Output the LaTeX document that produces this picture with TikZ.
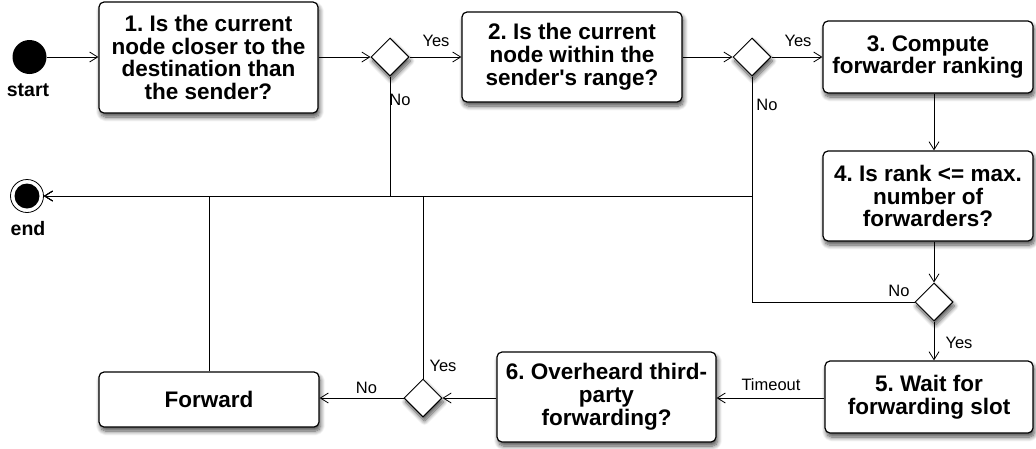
\documentclass[tikz,border=0pt]{standalone}
\usepackage{fontspec}
\setmainfont{Liberation Sans}
% plain family without TeX ligature mapping, so ' stays a straight quote
\newfontfamily\plainsans{Liberation Sans}[Ligatures=ResetAll]
\usetikzlibrary{shapes.geometric,arrows.meta,shadows.blur}

\begin{document}
\frenchspacing
\begin{tikzpicture}[x=1pt,y=-1pt,
  shade/.style={blur shadow={shadow xshift=1.5pt, shadow yshift=-4pt,
      shadow blur radius=4.5pt, shadow blur steps=8, shadow opacity=70}},
  box/.style={draw, line width=1.2pt, rounded corners=5pt, fill=white,
      align=center, inner sep=0pt, shade,
      font=\plainsans\bfseries\fontsize{22.5}{22.8}\selectfont},
  dec/.style={diamond, draw, line width=1pt, fill=white, aspect=1,
      minimum width=38pt, minimum height=38pt, inner sep=0pt, shade},
  conn/.style={line width=0.8pt},
  arr/.style={conn, -{Straight Barb[length=8pt,width=10pt]}},
  lbl/.style={inner sep=0pt, font=\plainsans\fontsize{16.5}{18}\selectfont},
  term/.style={inner sep=0pt, font=\plainsans\bfseries\fontsize{19.5}{20}\selectfont},
]
\useasboundingbox (0,0) rectangle (1036,448);

% start and end
\node[circle, fill=black, minimum size=34pt, inner sep=0pt] (start) at (29.5,57) {};
\node[term] (startlbl) at (28,90) {start};
\node[circle, draw, line width=0.8pt, fill=white, minimum size=33pt, inner sep=0pt] (end) at (27,196) {};
\node[circle, fill=black, minimum size=25pt, inner sep=0pt] (endcore) at (end.center) {};
\node[term] (endlbl) at (28,229) {end};

% activities
\node[box, minimum width=219pt, minimum height=111pt] (b1) at (208.5,57.5)
  {1. Is the current\\node closer to the\\destination than\\the sender?};
\node[box, minimum width=220pt, minimum height=90pt] (b2) at (572,57)
  {2. Is the current\\node within the\\sender's range?};
\node[box, minimum width=210pt, minimum height=72pt] (b3) at (928,57)
  {3. Compute\\forwarder ranking};
\node[box, minimum width=210pt, minimum height=90pt] (b4) at (928,196)
  {4. Is rank <= max.\\number of\\forwarders?};
\node[box, minimum width=208pt, minimum height=72pt] (b5) at (929,397)
  {5. Wait for\\forwarding slot};
\node[box, minimum width=219pt, minimum height=90pt] (b6) at (606.5,397)
  {6. Overheard third-\\party\\forwarding?};
\node[box, minimum width=220pt, minimum height=55pt] (fwd) at (209,399.5)
  {Forward};

% decisions
\node[dec] (d1) at (390,57) {};
\node[dec] (d2) at (752,57) {};
\node[dec] (d3) at (934,302) {};
\node[dec] (d4) at (423,398) {};

% main flow
\draw[arr] (start.east) -- (b1.west |- start.east);
\draw[arr] (b1.east |- d1.west) -- (d1.west);
\draw[arr] (d1.east) -- (b2.west |- d1.east);
\draw[arr] (b2.east |- d2.west) -- (d2.west);
\draw[arr] (d2.east) -- (b3.west |- d2.east);
\draw[arr] (d3 |- b3.south) -- (d3 |- b4.north);
\draw[arr] (d3 |- b4.south) -- (d3.north);
\draw[arr] (d3.south) -- (d3 |- b5.north);
\draw[arr] (b5.west |- d4) -- (b6.east |- d4);
\draw[arr] (b6.west |- d4) -- (d4.east);
\draw[arr] (d4.west) -- (fwd.east |- d4.west);

% branches back to the end state
\coordinate (j2) at (d2.south |- end.east);
\draw[arr] (d1.south) |- (end.east);
\draw[arr] (d2.south) |- (end.east);
\draw[conn] (d3.west) -| (j2);
\draw[arr] (d4.north) |- (end.east);
\draw[arr] (fwd.north) |- (end.east);

% branch labels
\node[lbl] (y1) at (436,41) {Yes};
\node[lbl] (n1) at (400,100) {No};
\node[lbl] (y2) at (798,41) {Yes};
\node[lbl] (n2) at (767,105) {No};
\node[lbl] (n3) at (899,291) {No};
\node[lbl] (y3) at (959,343) {Yes};
\node[lbl] (tmo) at (771,385) {Timeout};
\node[lbl] (y4) at (443,366) {Yes};
\node[lbl] (n4) at (366.5,388) {No};
\end{tikzpicture}
\end{document}
